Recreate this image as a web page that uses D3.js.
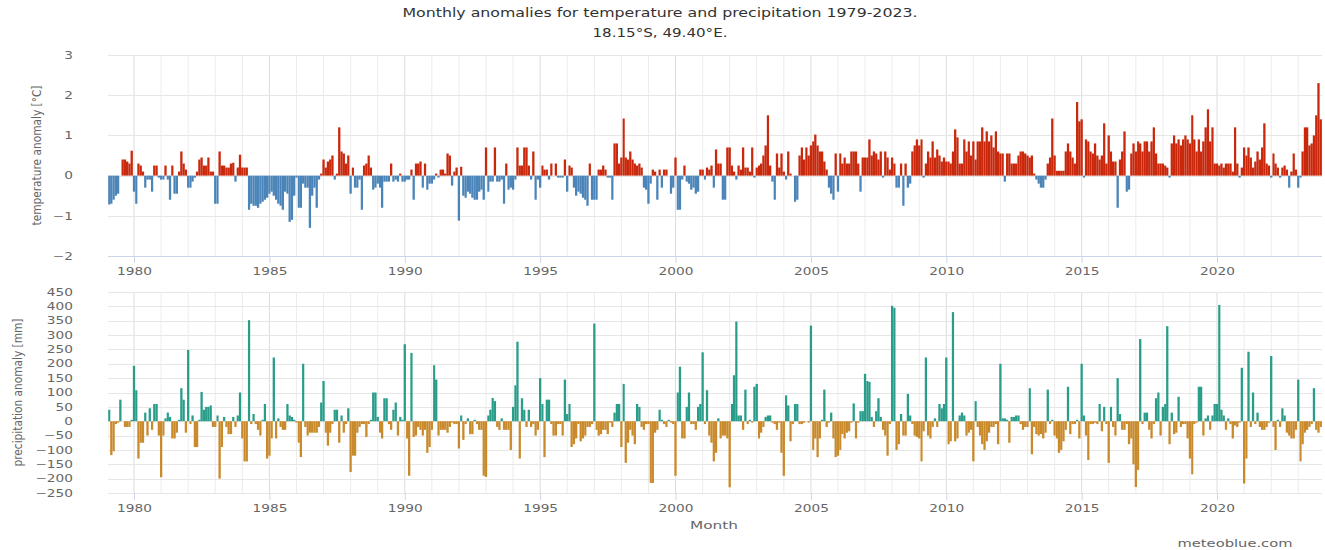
<!DOCTYPE html>
<html>
<head>
<meta charset="utf-8">
<script src="https://cdn.jsdelivr.net/npm/d3@7"></script>
<style>
  body { margin: 0; background: #fff; }
  text { font-family: "DejaVu Sans", Verdana, sans-serif; }
</style>
</head>
<body>
<svg id="chart" width="1325" height="550"></svg>
<script>
// data, one row of 12 monthly values per year starting 1979
const firstYear = 1979;
const yearTicks = [1980, 1985, 1990, 1995, 2000, 2005, 2010, 2015, 2020];
const tempTicks = [-2, -1, 0, 1, 2, 3];
const precTicks = [-250, -200, -150, -100, -50, 0, 50, 100, 150, 200, 250, 300, 350, 400, 450];

const tempAnomaly = [
  [-0.72,-0.72,-0.7,-0.6,-0.5,-0.45,0.0,0.4,0.4,0.35,0.3,0.62],
  [-0.4,-0.7,0.3,0.25,0.1,-0.3,-0.1,-0.1,-0.4,0.25,0.25,-0.05],
  [-0.1,-0.1,0.25,-0.1,-0.6,0.25,-0.45,-0.45,0.1,0.6,0.3,0.15],
  [-0.3,-0.3,-0.15,-0.05,0.1,0.4,0.45,0.25,0.25,0.45,0.1,0.1],
  [-0.7,-0.7,0.6,0.25,0.25,0.2,0.2,0.3,0.32,-0.15,0.2,0.52],
  [0.2,0.2,0.2,-0.85,-0.7,-0.75,-0.75,-0.8,-0.7,-0.65,-0.6,-0.55],
  [-0.45,-0.4,-0.5,-0.6,-0.7,-0.75,-0.85,-0.4,-0.45,-1.15,-1.1,-0.5],
  [-0.05,-0.8,-0.8,-0.2,-0.3,-0.3,-1.3,-0.5,-0.3,-0.8,-0.1,0.05],
  [0.4,0.2,0.35,0.4,0.5,-0.1,0.05,1.2,0.6,0.55,0.3,0.5],
  [-0.45,0.2,-0.3,-0.3,-0.1,-0.85,0.25,0.3,0.5,0.2,-0.35,-0.3],
  [-0.2,-0.3,-0.8,-0.15,-0.15,-0.15,0.3,-0.15,-0.1,-0.15,0.05,-0.15],
  [-0.15,-0.1,-0.1,0.15,-0.6,0.3,0.3,0.35,-0.3,0.3,-0.35,-0.2],
  [-0.2,-0.1,0.05,-0.05,0.15,0.15,0.05,0.55,0.5,-0.25,0.1,0.2],
  [-1.12,0.22,-0.5,-0.55,-0.4,-0.45,-0.55,-0.6,-0.6,-0.4,-0.35,-0.6],
  [0.7,-0.4,-0.15,-0.15,0.7,-0.15,-0.15,-0.1,-0.7,0.3,-0.35,-0.3],
  [-0.35,-0.1,0.7,0.25,0.25,0.7,0.7,0.25,-0.1,0.6,-0.6,-0.1],
  [-0.3,0.25,0.15,0.15,-0.1,0.3,0.0,0.3,-0.05,-0.05,-0.05,0.4],
  [-0.4,0.25,0.2,-0.3,-0.5,-0.4,-0.45,-0.55,-0.6,-0.75,0.3,-0.6],
  [-0.6,-0.6,0.15,0.15,0.25,0.15,-0.05,-0.05,-0.6,0.8,0.8,0.3],
  [0.45,1.42,0.45,0.4,0.6,0.4,0.3,0.25,0.3,0.2,-0.3,-0.35],
  [-0.7,-0.2,0.15,0.1,-0.6,0.15,-0.3,0.15,0.15,0.0,-0.45,-0.3],
  [0.45,-0.85,-0.85,-0.1,0.25,-0.15,-0.2,-0.35,-0.3,-0.45,-0.4,0.15],
  [0.15,-0.1,0.2,0.15,0.25,-0.3,0.65,0.3,0.3,-0.6,-0.6,0.7],
  [0.7,0.25,0.1,-0.1,0.25,0.15,0.7,0.2,0.2,0.1,0.7,-0.05],
  [0.2,0.25,0.3,0.5,0.75,1.5,0.25,-0.15,-0.6,0.55,0.2,0.55],
  [0.1,-0.1,0.6,0.05,0.0,-0.65,-0.6,0.5,0.7,0.4,0.7,0.5],
  [0.75,0.85,1.02,0.75,0.6,0.6,0.35,0.15,-0.3,-0.45,-0.6,0.55],
  [-0.4,0.55,0.3,0.45,0.3,0.3,0.6,0.6,0.6,0.3,-0.4,0.45],
  [0.45,0.45,0.9,0.5,0.6,0.55,0.4,0.6,-0.05,0.6,0.45,0.15],
  [0.45,0.3,-0.3,-0.3,0.3,-0.75,0.3,-0.3,-0.2,0.6,0.75,0.9],
  [0.75,0.9,-0.05,0.3,0.6,0.45,0.85,0.45,0.65,0.5,0.35,0.45],
  [0.35,0.35,0.3,0.6,1.15,0.95,0.3,0.3,0.9,0.6,0.85,0.5],
  [0.85,0.4,0.85,0.85,1.2,0.85,1.1,0.85,1.0,0.7,1.1,0.6],
  [0.55,0.55,-0.15,0.55,0.55,0.3,0.3,0.3,0.5,0.6,0.6,0.55],
  [0.5,0.45,0.5,0.05,-0.1,-0.2,-0.3,-0.3,-0.1,0.3,0.45,1.42],
  [0.5,0.12,0.12,0.12,0.12,0.6,0.8,0.6,0.45,0.3,1.83,1.35],
  [1.4,-0.05,0.9,0.85,0.6,0.55,0.8,0.5,0.4,0.5,1.3,0.3],
  [1.0,0.6,0.35,0.35,-0.8,0.4,0.6,1.1,-0.4,-0.35,0.55,0.8],
  [0.6,0.85,0.8,0.6,0.85,0.85,0.6,0.85,1.2,0.55,0.3,0.3],
  [0.3,0.25,0.2,-0.05,0.8,1.0,0.8,0.9,0.75,0.9,1.0,0.9],
  [0.8,1.5,0.9,0.6,0.9,0.6,0.85,1.2,1.65,0.85,1.2,0.3],
  [0.3,0.25,0.3,0.2,0.3,0.3,0.3,0.1,1.2,0.3,-0.05,0.2],
  [0.7,0.5,0.7,0.45,0.2,0.35,0.6,0.4,0.7,1.3,0.3,0.25],
  [-0.05,0.55,0.3,0.2,-0.05,0.2,0.25,0.15,-0.3,0.1,0.55,0.15],
  [-0.3,-0.05,0.6,1.2,1.2,0.75,0.8,1.0,1.5,2.3,1.4,1.2]
];

const precAnomaly = [
  [-70,40,-118,-105,-10,-5,75,0,-20,-20,-20,5],
  [193,108,-130,-75,-75,30,-50,45,-30,60,60,-50],
  [-195,-50,10,30,15,-60,-60,-40,5,115,75,-40],
  [248,-10,20,-90,-90,5,102,40,50,50,55,-20],
  [-20,20,-200,-90,15,-20,-45,-45,15,-20,20,100],
  [-60,-140,-140,352,-10,25,-10,-30,-50,5,60,-130],
  [-120,-60,222,-60,10,-20,-30,-30,60,20,15,5],
  [-5,-75,-125,200,-20,-50,-40,-40,-40,-40,-20,65],
  [140,-40,-85,-40,-10,40,40,-75,20,-40,-10,45],
  [-177,-120,-120,-40,-20,-10,-10,-55,-10,5,100,100],
  [15,-40,-60,80,80,-10,-30,40,65,-50,15,5],
  [268,-60,-190,238,-55,-50,-20,-30,-50,-30,-110,-90],
  [-30,195,145,-50,-30,-30,-30,-40,-20,-5,-10,-10],
  [-95,20,-65,-10,10,-45,-45,5,-10,-30,-30,-190],
  [-194,20,40,81,70,-20,-30,10,-30,-30,-30,-100],
  [50,125,277,-130,80,40,-20,40,-20,-10,-50,-30],
  [150,60,-125,75,75,-10,-50,-50,-10,-10,-50,145],
  [25,60,-90,-80,-60,-10,-70,-60,-50,-20,-20,-10],
  [340,-30,-50,-45,-30,-30,-45,-5,-20,30,60,60],
  [-90,130,-145,-75,-30,-50,-80,60,50,-20,-30,-10],
  [-10,-215,-215,-40,-30,40,5,-10,-20,5,-5,-10],
  [-190,100,190,-60,-60,50,100,-10,-10,-30,50,60],
  [240,-10,108,-50,-75,-140,-110,10,-60,-50,-50,-60],
  [-230,60,160,347,20,20,-30,110,-10,5,-5,120],
  [130,-60,-40,-20,15,20,20,-5,-10,-30,-5,-110],
  [-190,90,55,-70,-10,60,60,-10,-10,-5,0,-5],
  [333,-100,-60,-125,-60,5,110,-20,-5,30,-60,-125],
  [-120,-100,-45,-60,-40,-35,-5,62,-60,-5,35,35],
  [165,140,137,15,-20,35,80,15,-30,-50,-120,-10],
  [402,395,-100,-80,25,-50,-50,95,20,-10,-50,-55],
  [-60,-140,-35,222,-50,-60,-20,10,-20,60,45,60],
  [222,-80,-70,380,-70,-60,20,30,20,-50,-40,-30],
  [-140,70,-20,-50,-80,-100,-70,-40,-20,-20,-10,-80],
  [200,10,10,5,-75,15,15,20,20,-10,-30,-20],
  [-20,115,-115,-20,-45,-50,-45,-60,-40,110,-10,5],
  [-50,-60,-110,-100,-70,-30,120,-45,-10,-10,5,-60],
  [200,20,-50,-135,-10,-10,-5,-10,60,-35,50,-10],
  [-145,50,-20,-50,150,25,-30,-30,-10,-80,-60,-150],
  [-229,-170,286,-10,30,30,-30,-60,-10,80,100,-50],
  [50,60,331,-80,30,-45,-40,85,-20,-10,-10,-60],
  [-130,-185,-10,-5,120,120,-50,10,20,-30,20,60],
  [60,405,40,20,-30,10,-10,-60,-15,-20,-5,186],
  [-217,-130,242,-20,100,-10,30,-20,-30,-30,-20,-5],
  [227,-20,-100,5,-20,45,20,-40,-50,-60,-60,-30],
  [145,-140,-80,-40,-30,-20,-10,115,-30,-40,-20,-20]
];

// flatten year rows into month records
function toMonths(rows) {
  return rows.flatMap((row, yi) => row.map((v, m) => ({
    date: new Date(firstYear + yi, m, 1),
    value: v
  })));
}
const tempData = toMonths(tempAnomaly);
const precData = toMonths(precAnomaly);

const svg = d3.select("#chart");
const plotLeft = 108, plotRight = 1322;
const stretch = 1.37; // reference text is drawn wide

const x = d3.scaleTime()
  .domain([new Date(1980, 0, 1), new Date(2020, 0, 1)])
  .range([134, 1217]);

const yT = d3.scaleLinear().domain([-2, 3]).range([256, 55]);
const yP = d3.scaleLinear().domain([-250, 450]).range([493, 292]);

svg.append("defs").append("clipPath").attr("id", "plotclip")
  .append("rect").attr("x", plotLeft).attr("y", 0)
  .attr("width", plotRight - plotLeft).attr("height", 550);

// titles
svg.append("text").attr("x", 660).attr("y", 17).attr("text-anchor", "middle")
  .attr("font-size", 12).attr("fill", "#333")
  .attr("textLength", 515).attr("lengthAdjust", "spacingAndGlyphs")
  .text("Monthly anomalies for temperature and precipitation 1979-2023.");
svg.append("text").attr("x", 660).attr("y", 37).attr("text-anchor", "middle")
  .attr("font-size", 12).attr("fill", "#333")
  .attr("textLength", 135).attr("lengthAdjust", "spacingAndGlyphs")
  .text("18.15°S, 49.40°E.");

const allYears = d3.range(firstYear, firstYear + tempAnomaly.length).map(y => new Date(y, 0, 1));

function drawPanel(yScale, ticks, data, posColor, negColor, top, bottom, title, titleX, titleLen, showLine) {
  const g = svg.append("g");
  const yearSet = new Set(yearTicks);

  // vertical year grid
  g.selectAll(".vgrid").data(allYears).enter().append("line")
    .attr("x1", d => x(d)).attr("x2", d => x(d))
    .attr("y1", top).attr("y2", bottom)
    .attr("stroke", d => yearSet.has(d.getFullYear()) ? "#dcdcdc" : "#ececec")
    .attr("stroke-width", 1)
    .attr("clip-path", "url(#plotclip)");

  // horizontal grid
  g.selectAll(".hgrid").data(ticks).enter().append("line")
    .attr("x1", plotLeft).attr("x2", plotRight)
    .attr("y1", d => Math.round(yScale(d)) + 0.5).attr("y2", d => Math.round(yScale(d)) + 0.5)
    .attr("stroke", "#e6e6e6");

  // bars
  g.append("g").attr("clip-path", "url(#plotclip)")
    .selectAll("rect").data(data).enter().append("rect")
    .attr("x", d => {
      const next = d3.timeMonth.offset(d.date, 1);
      return x(d.date) - (x(next) - x(d.date)) / 2;
    })
    .attr("width", d => x(d3.timeMonth.offset(d.date, 1)) - x(d.date))
    .attr("y", d => yScale(Math.max(0, d.value)))
    .attr("height", d => Math.abs(yScale(d.value) - yScale(0)))
    .attr("fill", d => d.value >= 0 ? posColor : negColor);

  // y axis labels
  const ya = svg.append("g").attr("transform", `translate(${73},0)`)
    .call(d3.axisLeft(yScale).tickValues(ticks).tickFormat(d3.format("d"))
      .tickSize(0).tickPadding(0));
  ya.select(".domain").remove();
  ya.selectAll("text")
    .attr("font-size", 10).attr("fill", "#666")
    .attr("font-family", "DejaVu Sans, Verdana, sans-serif")
    .attr("transform", `scale(${stretch},1)`);

  // x axis
  if (showLine) {
    svg.append("line").attr("x1", plotLeft).attr("x2", plotRight)
      .attr("y1", bottom + 0.5).attr("y2", bottom + 0.5).attr("stroke", "#ccd6eb");
  }
  const xa = svg.append("g").attr("transform", `translate(0,${bottom})`)
    .call(d3.axisBottom(x).tickValues(yearTicks.map(y => new Date(y, 0, 1)))
      .tickFormat(d3.timeFormat("%Y")).tickSize(7).tickPadding(5));
  xa.select(".domain").remove();
  xa.selectAll(".tick line").attr("stroke", "#ccd6eb");
  xa.selectAll(".tick").each(function () {
    const t = d3.select(this).select("text");
    t.attr("font-size", 10).attr("fill", "#666")
      .attr("font-family", "DejaVu Sans, Verdana, sans-serif")
      .attr("x", 0)
      .attr("transform", `scale(${stretch},1)`);
  });

  // y axis title
  svg.append("text")
    .attr("transform", `translate(${titleX},${(top + bottom) / 2}) scale(1.3,1) rotate(-90)`)
    .attr("text-anchor", "middle").attr("dy", "0.35em")
    .attr("font-size", 10).attr("fill", "#666")
    .attr("textLength", titleLen).attr("lengthAdjust", "spacingAndGlyphs")
    .text(title);
}

drawPanel(yT, tempTicks, tempData, "#c9280c", "#4a84b8", 55, 256,
  "temperature anomaly [°C]", 36, 140, true);
drawPanel(yP, precTicks, precData, "#2a9d8a", "#c98a2c", 292, 493,
  "precipitation anomaly [mm]", 17, 148, false);

svg.append("text").attr("x", 714).attr("y", 529).attr("text-anchor", "middle")
  .attr("font-size", 11).attr("fill", "#666")
  .attr("textLength", 48).attr("lengthAdjust", "spacingAndGlyphs")
  .text("Month");

svg.append("text").attr("x", 1235).attr("y", 547).attr("text-anchor", "middle")
  .attr("font-size", 11).attr("fill", "#666")
  .attr("textLength", 115).attr("lengthAdjust", "spacingAndGlyphs")
  .text("meteoblue.com");
</script>
</body>
</html>
